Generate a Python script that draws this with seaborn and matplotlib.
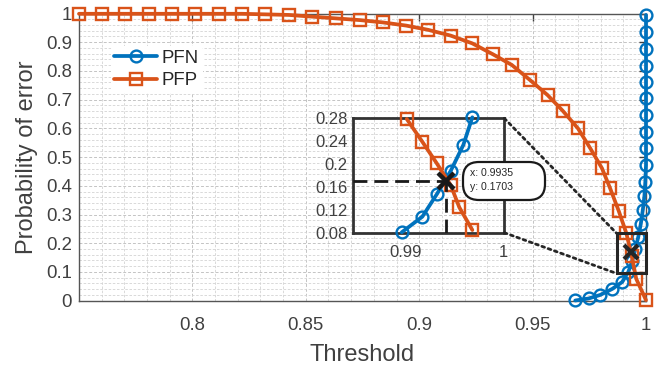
import numpy as np
import pandas as pd
import seaborn as sns
import matplotlib
matplotlib.use("Agg")
import matplotlib.pyplot as plt
from matplotlib.patches import Rectangle, FancyBboxPatch, ConnectionPatch
from matplotlib.ticker import MultipleLocator, FuncFormatter
from matplotlib.transforms import IdentityTransform

# ---------------- data ----------------
pfn_x = [0.9688, 0.9747, 0.9798, 0.9851, 0.9895, 0.9922, 0.9939, 0.9953, 0.9966,
         0.9977, 0.9986, 0.9993, 0.9997, 1.0, 1.0, 1.0, 1.0, 1.0, 1.0, 1.0, 1.0, 1.0, 1.0]
pfn_y = [0.0007, 0.0077, 0.020, 0.041, 0.065, 0.100, 0.138, 0.180, 0.222,
         0.267, 0.316, 0.365, 0.414, 0.472, 0.531, 0.588, 0.647, 0.705, 0.763,
         0.818, 0.876, 0.935, 0.995]

pfp_x = [0.75, 0.7601, 0.7704, 0.7807, 0.7910, 0.8013, 0.8116, 0.8219, 0.8322,
         0.8425, 0.8528, 0.8633, 0.8739, 0.8839, 0.8942, 0.9040, 0.9139, 0.9234,
         0.9325, 0.9408, 0.9489, 0.9566, 0.9632, 0.9700, 0.9754, 0.9806, 0.9842,
         0.9880, 0.9913, 0.9937, 0.9957, 1.0]
pfp_y = [0.999, 0.999, 0.999, 0.999, 0.999, 0.999, 0.999, 0.999, 0.997,
         0.995, 0.989, 0.983, 0.977, 0.969, 0.958, 0.943, 0.923, 0.896,
         0.858, 0.821, 0.768, 0.716, 0.662, 0.600, 0.531, 0.461, 0.391,
         0.312, 0.236, 0.156, 0.076, 0.002]

# zoomed (inset) samples
pfn_x_in = [0.98964, 0.99174, 0.99321, 0.99463, 0.99592, 0.99684]
pfn_y_in = [0.0807, 0.108, 0.1471, 0.1879, 0.2333, 0.2817]
pfp_x_in = [0.99015, 0.99174, 0.99321, 0.99463, 0.99551, 0.99684]
pfp_y_in = [0.2788, 0.239, 0.2013, 0.1634, 0.1244, 0.0847]

tip_x, tip_y = 0.9935, 0.1703
tip_x_inset = 0.99412

x_ticks = [0.8, 0.85, 0.9, 0.95, 1.0]
y_ticks = [0, 0.1, 0.2, 0.3, 0.4, 0.5, 0.6, 0.7, 0.8, 0.9, 1.0]
in_x_ticks = [0.99, 1.0]
in_y_ticks = [0.08, 0.12, 0.16, 0.2, 0.24, 0.28]
zoom_x = [0.987, 1.0]
zoom_y = [0.095, 0.235]

series_names = ["PFN", "PFP"]
BLUE = "#0072BD"
ORANGE = "#D95319"
AXC = "#404040"

# ---------------- style ----------------
sns.set_style("white")
plt.rcParams["font.family"] = ["Liberation Sans", "DejaVu Sans"]

fig = plt.figure(figsize=(6.71, 3.69), dpi=100)
ax = fig.add_axes([79 / 671, 68.3 / 369, 567 / 671, 287.2 / 369])

line_kw = dict(sort=False, estimator=None, linewidth=2.7, markersize=8.5,
               markerfacecolor="none", mew=1.7, clip_on=False)

sns.lineplot(x=pfn_x, y=pfn_y, ax=ax, color=BLUE, marker="o", mec=BLUE,
             label=series_names[0], zorder=3, **line_kw)
sns.lineplot(x=pfp_x, y=pfp_y, ax=ax, color=ORANGE, marker="s", mec=ORANGE,
             label=series_names[1], zorder=3, **line_kw)

ax.plot(tip_x, tip_y, marker="x", color="#262626", ms=10, mew=3, zorder=6, clip_on=False)

ax.set_xlim(0.75, 1.0)
ax.set_ylim(0, 1)
ax.set_xticks(x_ticks)
ax.set_yticks(y_ticks)
fmt = FuncFormatter(lambda v, p: f"{v:g}")
ax.xaxis.set_major_formatter(fmt)
ax.yaxis.set_major_formatter(fmt)
ax.xaxis.set_minor_locator(MultipleLocator(0.01))
ax.yaxis.set_minor_locator(MultipleLocator(0.02))
ax.grid(True, which="major", color="#c4c4c4", linewidth=0.7, linestyle=(0, (3, 2)))
ax.grid(True, which="minor", color="#d3d3d3", linewidth=0.6, linestyle=(0, (3, 2)))
ax.set_axisbelow(True)
ax.tick_params(which="major", direction="in", length=5, width=1, top=True, right=True,
               labelsize=13.4, colors=AXC, pad=12)
ax.tick_params(axis="y", which="major", pad=5)
ax.tick_params(which="minor", length=0, top=True, right=True)
for s in ax.spines.values():
    s.set_color("#555555")
    s.set_linewidth(1.0)
ax.set_xlabel("Threshold", fontsize=17, color=AXC, labelpad=7)
ax.set_ylabel("Probability of error", fontsize=17, color=AXC, labelpad=6)

leg = ax.legend(loc="upper left", bbox_to_anchor=(0.056, 0.887), fontsize=13.4,
                frameon=True, facecolor="white", edgecolor="none", framealpha=1,
                borderpad=0.2, borderaxespad=0, handlelength=2.3, handletextpad=0.25,
                labelspacing=0.3)
for t in leg.get_texts():
    t.set_color("#262626")

# zoom rectangle in main axes
ax.add_patch(Rectangle((zoom_x[0], zoom_y[0]), zoom_x[1] - zoom_x[0], zoom_y[1] - zoom_y[0],
                       fill=False, ec="#262626", lw=2.2, zorder=5, clip_on=False))

# ---------------- inset ----------------
ax_in = fig.add_axes([353.3 / 671, (369 - 232.7) / 369, 151 / 671, 114.4 / 369])
ax_in.set_facecolor("none")
sns.lineplot(x=pfn_x_in, y=pfn_y_in, ax=ax_in, color=BLUE, marker="o", mec=BLUE,
             zorder=3, **line_kw)
sns.lineplot(x=pfp_x_in, y=pfp_y_in, ax=ax_in, color=ORANGE, marker="s", mec=ORANGE,
             zorder=3, **line_kw)
ax_in.set_xlim(0.9847, 1.0001)
ax_in.set_ylim(0.08, 0.28)
ax_in.set_xticks(in_x_ticks)
ax_in.set_yticks(in_y_ticks)
ax_in.xaxis.set_major_formatter(fmt)
ax_in.yaxis.set_major_formatter(fmt)
ax_in.grid(False)
ax_in.tick_params(direction="in", length=3, labelsize=12, colors=AXC)
ax_in.tick_params(axis="x", pad=9)
ax_in.tick_params(axis="y", pad=4)
for s in ax_in.spines.values():
    s.set_color("#333333")
    s.set_linewidth(2.0)

dash = (0, (5, 2.5))
ax_in.plot([0.9847, tip_x_inset], [tip_y, tip_y], color="#1a1a1a", lw=2, linestyle=dash, zorder=4)
ax_in.plot([tip_x_inset, tip_x_inset], [0.08, tip_y], color="#1a1a1a", lw=2, linestyle=dash, zorder=4)
ax_in.plot(tip_x_inset, tip_y, marker="x", color="#1a1a1a", ms=11, mew=3.2, zorder=6)

# connectors
for ya, yb in [(1, zoom_y[1]), (0, zoom_y[0])]:
    cp = ConnectionPatch(xyA=(1, ya), coordsA=ax_in.transAxes,
                         xyB=(zoom_x[0], yb), coordsB=ax.transData,
                         linestyle=(0, (1, 1.4)), lw=2.0, color="#262626", zorder=4)
    fig.add_artist(cp)

# data tip box
box = FancyBboxPatch((463, 169), 82, 38, boxstyle="round,pad=0,rounding_size=16",
                     transform=IdentityTransform(), fc="white", ec="#1a1a1a", lw=1.6, zorder=10)
fig.add_artist(box)
fig.text(470 / 671, (369 - 173) / 369, f"x: {tip_x:.4f}", fontsize=7.6, color="#262626",
         ha="left", va="center", zorder=11)
fig.text(470 / 671, (369 - 186.5) / 369, f"y: {tip_y:.4f}", fontsize=7.6, color="#262626",
         ha="left", va="center", zorder=11)

fig.savefig("out.png", dpi=100)
